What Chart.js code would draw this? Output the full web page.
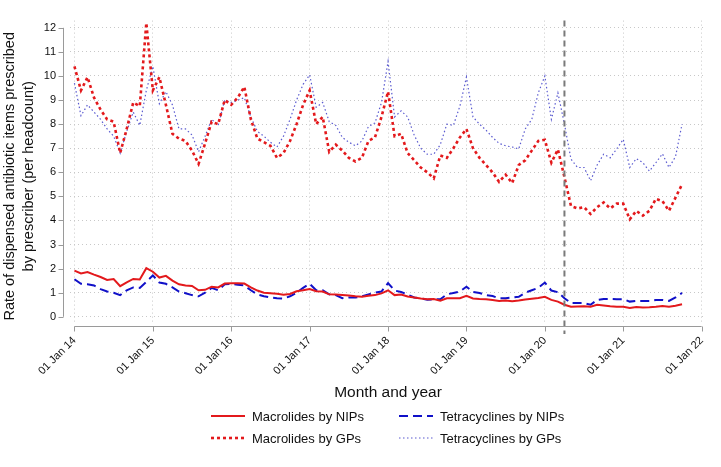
<!DOCTYPE html>
<html>
<head>
<meta charset="utf-8">
<script src="https://cdn.jsdelivr.net/npm/chart.js@4.4.1/dist/chart.umd.min.js"></script>
<style>
  html, body { margin: 0; padding: 0; background: #ffffff; }
  #wrap { width: 721px; height: 467px; position: relative; }
</style>
</head>
<body>
<div id="wrap"><canvas id="rateChart" width="721" height="467"></canvas></div>
<script>
// Monthly values, Jan 2014 .. Oct 2021 (index 0 = Jan 2014)
const macrolidesNIP = [
  1.92, 1.80, 1.86, 1.75, 1.65, 1.53, 1.57, 1.27, 1.43, 1.57, 1.55, 2.02,
  1.87, 1.63, 1.70, 1.50, 1.35, 1.30, 1.28, 1.10, 1.12, 1.25, 1.22, 1.38,
  1.39, 1.39, 1.38, 1.22, 1.09, 1.00, 0.98, 0.96, 0.92, 0.95, 1.06, 1.10,
  1.15, 1.06, 1.05, 0.93, 0.92, 0.90, 0.88, 0.85, 0.83, 0.87, 0.90, 0.97,
  1.10, 0.90, 0.92, 0.84, 0.80, 0.76, 0.73, 0.74, 0.67, 0.77, 0.77, 0.77,
  0.87, 0.76, 0.74, 0.73, 0.70, 0.66, 0.68, 0.65, 0.68, 0.72, 0.75, 0.78,
  0.83, 0.70, 0.63, 0.50, 0.42, 0.43, 0.44, 0.42, 0.50, 0.47, 0.44, 0.42,
  0.42, 0.37, 0.41, 0.39, 0.40, 0.42, 0.45, 0.42, 0.46, 0.52
];
const macrolidesGP = [
  10.4, 9.4, 9.95, 9.1, 8.6, 8.2, 8.1, 6.8, 7.8, 8.9, 8.75, 12.2,
  9.4, 9.95, 8.8, 7.6, 7.4, 7.3, 6.9, 6.35, 7.2, 8.1, 8.0, 9.0,
  8.8, 9.1, 9.55, 8.2, 7.4, 7.25, 7.1, 6.6, 6.8, 7.3, 8.0, 8.8,
  9.4, 8.0, 8.3, 6.85, 7.15, 6.9, 6.6, 6.45, 6.6, 7.3, 7.45, 8.3,
  9.35, 7.5, 7.6, 6.8, 6.5, 6.2, 6.0, 5.75, 6.7, 6.6, 7.0, 7.45,
  7.8, 7.0, 6.6, 6.3, 6.0, 5.6, 5.9, 5.55, 6.3, 6.5, 6.9, 7.3,
  7.35, 6.4, 6.95, 5.8, 4.6, 4.5, 4.55, 4.27, 4.55, 4.75, 4.5, 4.7,
  4.7, 4.05, 4.4, 4.2, 4.4, 4.9, 4.8, 4.4, 4.95, 5.5
];
const tetracyclinesNIP = [
  1.56, 1.37, 1.35, 1.30, 1.15, 1.05, 1.00, 0.90, 1.10, 1.22, 1.20, 1.45,
  1.72, 1.42, 1.37, 1.22, 1.05, 0.98, 0.90, 0.85, 1.00, 1.20, 1.10, 1.35,
  1.37, 1.33, 1.30, 1.10, 0.93, 0.85, 0.80, 0.77, 0.76, 0.85, 1.00, 1.20,
  1.37, 1.10, 1.10, 0.93, 0.90, 0.77, 0.80, 0.80, 0.85, 0.93, 1.00, 1.05,
  1.40, 1.09, 1.03, 0.92, 0.80, 0.76, 0.71, 0.72, 0.73, 0.93, 0.99, 1.05,
  1.25, 1.03, 0.99, 0.90, 0.86, 0.77, 0.77, 0.80, 0.83, 1.00, 1.10, 1.20,
  1.42, 1.09, 1.02, 0.77, 0.57, 0.57, 0.57, 0.50, 0.70, 0.74, 0.74, 0.73,
  0.73, 0.63, 0.66, 0.66, 0.66, 0.70, 0.70, 0.66, 0.80, 0.99
];
const tetracyclinesGP = [
  9.7, 8.35, 8.8, 8.5, 8.2, 7.8, 7.5, 6.8, 7.7, 8.5, 7.95, 9.4,
  10.4, 8.85, 9.35, 8.8, 7.8, 7.8, 7.55, 6.85, 7.5, 8.2, 7.95, 9.0,
  8.9, 9.0, 9.1, 8.3, 7.7, 7.5, 7.25, 7.05, 7.5, 8.2, 9.0, 9.65,
  10.05, 8.7, 8.9, 8.1, 7.95, 7.45, 7.25, 7.1, 7.3, 7.9, 8.05, 8.9,
  10.6, 8.3, 8.55, 8.3, 7.55, 7.0, 6.75, 6.75, 7.15, 8.0, 7.95, 8.75,
  9.95, 8.3, 8.0, 7.75, 7.45, 7.2, 7.1, 7.05, 6.97, 7.8, 8.2, 9.3,
  10.0, 8.2, 9.3, 8.0, 6.55, 6.2, 6.2, 5.65, 6.3, 6.75, 6.6, 6.97,
  7.37, 6.2, 6.57, 6.4, 6.05, 6.4, 6.77, 6.2, 6.65, 8.0
];

// Axis ticks (x in months since Jan 2014)
const xTickMonths = [0, 12, 24, 36, 48, 60, 72, 84, 96];
const xTickLabels = ['01 Jan 14', '01 Jan 15', '01 Jan 16', '01 Jan 17', '01 Jan 18',
                     '01 Jan 19', '01 Jan 20', '01 Jan 21', '01 Jan 22'];
const yTicks = [0, 1, 2, 3, 4, 5, 6, 7, 8, 9, 10, 11, 12];
const lockdownMonth = 75;

const FONT = "'Liberation Sans', Arial, Helvetica, sans-serif";
const RED = '#e3191c';
const BLUE = '#1010c8';
const BLUE_LIGHT = '#5a5ad0';

const seriesStyle = [
  { label: 'Macrolides by NIPs',    values: macrolidesNIP,    color: RED,        width: 2,   dash: [] },
  { label: 'Macrolides by GPs',     values: macrolidesGP,     color: RED,        width: 2.6, dash: [3, 3] },
  { label: 'Tetracyclines by NIPs', values: tetracyclinesNIP, color: BLUE,       width: 2,   dash: [9, 5] },
  { label: 'Tetracyclines by GPs',  values: tetracyclinesGP,  color: BLUE_LIGHT, width: 1.2, dash: [1.5, 2.5] }
];

function toPoints(arr) {
    return arr.map((v, i) => ({ x: i, y: v }));
}

// axes, titles, lockdown line and legend drawn by hand (R-style layout)
const decorPlugin = {
    id: 'decor',
    afterDatasetsDraw(chart) {
        const ctx = chart.ctx;
        const xs = chart.scales.x;
        const px = xs.getPixelForValue(lockdownMonth);
        ctx.save();
        ctx.strokeStyle = '#7a7a7a';
        ctx.lineWidth = 2;
        ctx.setLineDash([6, 4]);
        ctx.beginPath();
        ctx.moveTo(px, chart.chartArea.top);
        ctx.lineTo(px, 334);
        ctx.stroke();
        ctx.restore();
    },
    afterDraw(chart) {
        const ctx = chart.ctx;
        const xs = chart.scales.x;
        const ys = chart.scales.y;
        ctx.save();
        ctx.strokeStyle = '#9a9a9a';
        ctx.lineWidth = 1;

        // y axis
        const yAxisX = 63.5;
        ctx.beginPath();
        ctx.moveTo(yAxisX, ys.getPixelForValue(0));
        ctx.lineTo(yAxisX, ys.getPixelForValue(12));
        yTicks.forEach(t => {
            const py = Math.round(ys.getPixelForValue(t)) + 0.5;
            ctx.moveTo(yAxisX - 5, py);
            ctx.lineTo(yAxisX, py);
        });
        ctx.stroke();

        // x axis
        const xAxisY = 326.5;
        ctx.beginPath();
        ctx.moveTo(xs.getPixelForValue(0), xAxisY);
        ctx.lineTo(xs.getPixelForValue(96), xAxisY);
        xTickMonths.forEach(m => {
            const pxx = Math.round(xs.getPixelForValue(m)) + 0.5;
            ctx.moveTo(pxx, xAxisY);
            ctx.lineTo(pxx, xAxisY + 5);
        });
        ctx.stroke();

        // axis titles
        ctx.fillStyle = '#111';
        ctx.textAlign = 'center';
        ctx.textBaseline = 'middle';
        ctx.font = '15.5px ' + FONT;
        ctx.fillText('Month and year', (xs.getPixelForValue(0) + xs.getPixelForValue(96)) / 2, 393);

        ctx.save();
        ctx.translate(0, (ys.getPixelForValue(0) + ys.getPixelForValue(12)) / 2 + 4);
        ctx.rotate(-Math.PI / 2);
        ctx.font = '14.5px ' + FONT;
        ctx.fillText('Rate of dispensed antibiotic items prescribed', 0, 10);
        ctx.fillText('by prescriber (per headcount)', 0, 29);
        ctx.restore();

        // legend, two columns
        const cols = [{ line: 211, text: 252 }, { line: 399, text: 440 }];
        const rows = [416, 438];
        const order = [[0, 0, 0], [1, 0, 1], [2, 1, 0], [3, 1, 1]];
        ctx.font = '13px ' + FONT;
        ctx.textAlign = 'left';
        order.forEach(([si, c, r]) => {
            const s = seriesStyle[si];
            const y = rows[r];
            ctx.save();
            ctx.strokeStyle = s.color;
            ctx.lineWidth = s.width;
            ctx.setLineDash(s.dash);
            ctx.beginPath();
            ctx.moveTo(cols[c].line, y);
            ctx.lineTo(cols[c].line + 34, y);
            ctx.stroke();
            ctx.restore();
            ctx.fillStyle = '#111';
            ctx.fillText(s.label, cols[c].text, y + 1);
        });
        ctx.restore();
    }
};

function createRateChart() {
    const ctx = document.getElementById('rateChart');
    if (!ctx) return;

    new Chart(ctx, {
        type: 'line',
        data: {
            datasets: seriesStyle.map(s => ({
                label: s.label,
                data: toPoints(s.values),
                borderColor: s.color,
                borderWidth: s.width,
                borderDash: s.dash,
                pointRadius: 0,
                tension: 0,
                fill: false
            }))
        },
        options: {
            responsive: false,
            animation: false,
            events: [],
            layout: { padding: { top: 5, right: 5, left: 0, bottom: 0 } },
            plugins: {
                legend: { display: false },
                tooltip: { enabled: false }
            },
            scales: {
                x: {
                    type: 'linear',
                    min: -0.68,
                    max: 96.5,
                    afterBuildTicks: scale => { scale.ticks = xTickMonths.map(v => ({ value: v })); },
                    afterFit: scale => { scale.height = 143; },
                    border: { display: false, dash: [1, 3] },
                    grid: { color: '#c8c8c8', lineWidth: 1, drawTicks: false },
                    ticks: {
                        autoSkip: false,
                        minRotation: 45,
                        maxRotation: 45,
                        padding: 10,
                        color: '#111',
                        font: { family: FONT, size: 11 },
                        callback: v => xTickLabels[xTickMonths.indexOf(v)] || ''
                    }
                },
                y: {
                    type: 'linear',
                    min: -0.3,
                    max: 12.3,
                    afterBuildTicks: scale => { scale.ticks = yTicks.map(v => ({ value: v })); },
                    afterFit: scale => { scale.width = 70; },
                    border: { display: false, dash: [1, 3] },
                    grid: { color: '#c8c8c8', lineWidth: 1, drawTicks: false },
                    ticks: {
                        padding: 14,
                        color: '#111',
                        font: { family: FONT, size: 11 },
                        callback: v => String(v)
                    }
                }
            }
        },
        plugins: [decorPlugin]
    });
}

createRateChart();
</script>
</body>
</html>
